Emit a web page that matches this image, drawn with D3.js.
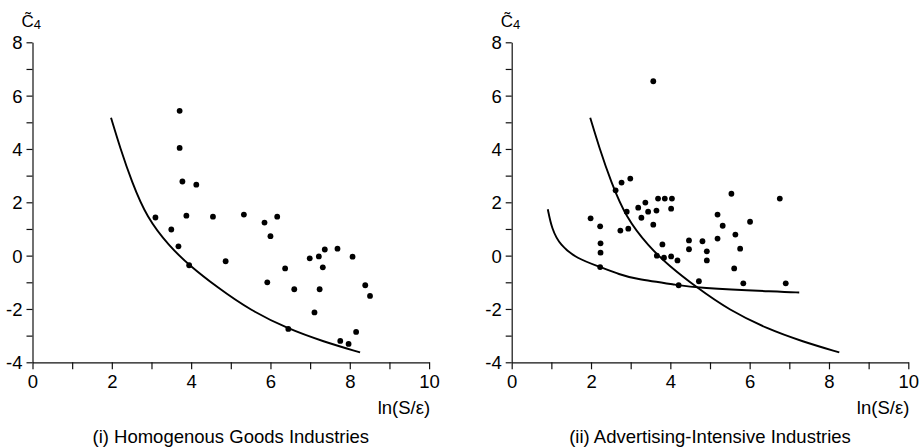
<!DOCTYPE html>
<html>
<head>
<meta charset="utf-8">
<script src="https://cdn.jsdelivr.net/npm/d3@7"></script>
<style>
  body { margin: 0; background: #fff; }
  text { font-family: "Liberation Sans", Arial, sans-serif; fill: #000; }
</style>
</head>
<body>
<svg id="chart"></svg>
<script>
// panel (i) homogenous goods industries
const homX = [3.71, 3.71, 3.78, 4.13, 3.10, 3.88, 4.55, 5.33, 5.85, 6.17, 3.50, 6.00, 3.68, 3.95, 4.87, 5.92,
  6.37, 6.60, 6.45, 6.99, 7.22, 7.37, 7.32, 7.24, 7.11, 7.69, 8.07, 7.76, 7.97, 8.16, 8.39, 8.51];
const homY = [5.43, 4.04, 2.78, 2.66, 1.43, 1.50, 1.46, 1.54, 1.24, 1.46, 0.98, 0.73, 0.35, -0.36, -0.21, -1.00,
  -0.48, -1.26, -2.75, -0.10, -0.03, 0.23, -0.44, -1.26, -2.13, 0.26, -0.04, -3.20, -3.31, -2.86, -1.11, -1.51];

// panel (ii) advertising-intensive industries
const advX = [3.57, 2.62, 2.77, 2.99, 1.99, 2.23, 2.24, 2.24, 2.23, 2.74, 2.94, 2.90, 3.19, 3.37, 3.27, 3.44,
  3.57, 3.65, 3.69, 3.86, 4.04, 4.02, 3.80, 3.66, 3.84, 4.02, 4.18, 4.21, 4.47, 4.47, 4.72, 4.81,
  4.92, 4.92, 5.19, 5.32, 5.19, 5.54, 5.64, 5.76, 5.61, 5.84, 6.01, 6.76, 6.91];
const advY = [6.54, 2.45, 2.74, 2.89, 1.40, 1.10, 0.46, 0.11, -0.43, 0.94, 1.01, 1.65, 1.80, 1.99, 1.42, 1.65,
  1.16, 1.69, 2.14, 2.14, 2.14, 1.76, 0.42, 0.00, -0.08, -0.03, -0.18, -1.11, 0.57, 0.24, -0.96, 0.54,
  0.16, -0.18, 1.54, 1.12, 0.64, 2.32, 0.79, 0.26, -0.48, -1.04, 1.27, 2.14, -1.04];

// lower bound for homogenous goods (drawn in both panels)
const boundX = [1.98, 2.21, 2.50, 2.88, 3.45, 3.95, 4.65, 5.49, 6.45, 7.33, 8.26];
const boundY = [5.17, 4.04, 2.78, 1.43, 0.35, -0.36, -1.18, -2.05, -2.75, -3.22, -3.63];

// lower bound for advertising-intensive industries
const advBoundX = [0.91, 1.01, 1.22, 1.64, 2.24, 2.73, 3.07, 4.22, 4.62, 6.76, 7.25];
const advBoundY = [1.74, 1.01, 0.39, -0.11, -0.43, -0.71, -0.86, -1.11, -1.20, -1.36, -1.38];

const xTicks = d3.range(0, 11);
const yTicks = d3.range(-4, 9);
const xLabel = "ln(S/\u03b5)";

const panels = [
  { left: 32.5, title: "(i) Homogenous Goods Industries", xs: homX, ys: homY,
    curves: [[boundX, boundY]] },
  { left: 511.7, title: "(ii) Advertising-Intensive Industries", xs: advX, ys: advY,
    curves: [[boundX, boundY], [advBoundX, advBoundY]] }
];

const width = 919, height = 448;
const plotW = 396.6, plotTop = 42.3, plotBottom = 362.3;

const svg = d3.select("#chart").attr("width", width).attr("height", height);

panels.forEach(p => {
  const x = d3.scaleLinear().domain([0, 10]).range([p.left, p.left + plotW]);
  const y = d3.scaleLinear().domain([-4, 8]).range([plotBottom, plotTop]);
  const g = svg.append("g");

  const xAxis = g.append("g")
    .attr("transform", `translate(0,${plotBottom})`)
    .call(d3.axisBottom(x).tickValues(xTicks).tickSize(7).tickSizeOuter(0)
      .tickFormat(d => d % 2 === 0 ? d : ""));
  const yAxis = g.append("g")
    .attr("transform", `translate(${p.left},0)`)
    .call(d3.axisLeft(y).tickValues(yTicks).tickSize(6).tickSizeOuter(0)
      .tickFormat(d => d % 2 === 0 ? d : ""));

  [xAxis, yAxis].forEach(a => {
    a.select(".domain").attr("stroke", "#111").attr("stroke-width", 1.2);
    a.selectAll(".tick line").attr("stroke", "#111").attr("stroke-width", 1.2);
    a.selectAll("text").style("font-size", "18.5px").attr("fill", "#000")
      .style("font-family", "'Liberation Sans', Arial, sans-serif");
  });
  xAxis.selectAll("text").attr("dy", null).attr("y", 26);
  yAxis.selectAll("text").attr("x", -10).attr("dy", "0.35em");

  const line = d3.line().x(d => x(d[0])).y(d => y(d[1])).curve(d3.curveBasis);
  p.curves.forEach(([cx, cy]) => {
    g.append("path")
      .datum(cx.map((v, i) => [v, cy[i]]))
      .attr("d", line)
      .attr("fill", "none")
      .attr("stroke", "#000")
      .attr("stroke-width", 1.9);
  });

  g.selectAll("circle")
    .data(p.xs.map((v, i) => [v, p.ys[i]]))
    .enter()
    .append("circle")
    .attr("cx", d => x(d[0]))
    .attr("cy", d => y(d[1]))
    .attr("r", 2.9)
    .attr("fill", "#000");

  // y axis label: C tilde with subscript 4
  const yl = g.append("text").attr("x", p.left - 11).attr("y", 27);
  yl.append("tspan").style("font-size", "17px").text("C\u0303");
  yl.append("tspan").style("font-size", "13px").attr("dy", 2).text("4");

  g.append("text")
    .attr("x", p.left + plotW + 1)
    .attr("y", 414)
    .attr("text-anchor", "end")
    .style("font-size", "18.5px")
    .text(xLabel);

  g.append("text")
    .attr("x", p.left + plotW / 2)
    .attr("y", 443)
    .attr("text-anchor", "middle")
    .style("font-size", "18.5px")
    .text(p.title);
});
</script>
</body>
</html>
